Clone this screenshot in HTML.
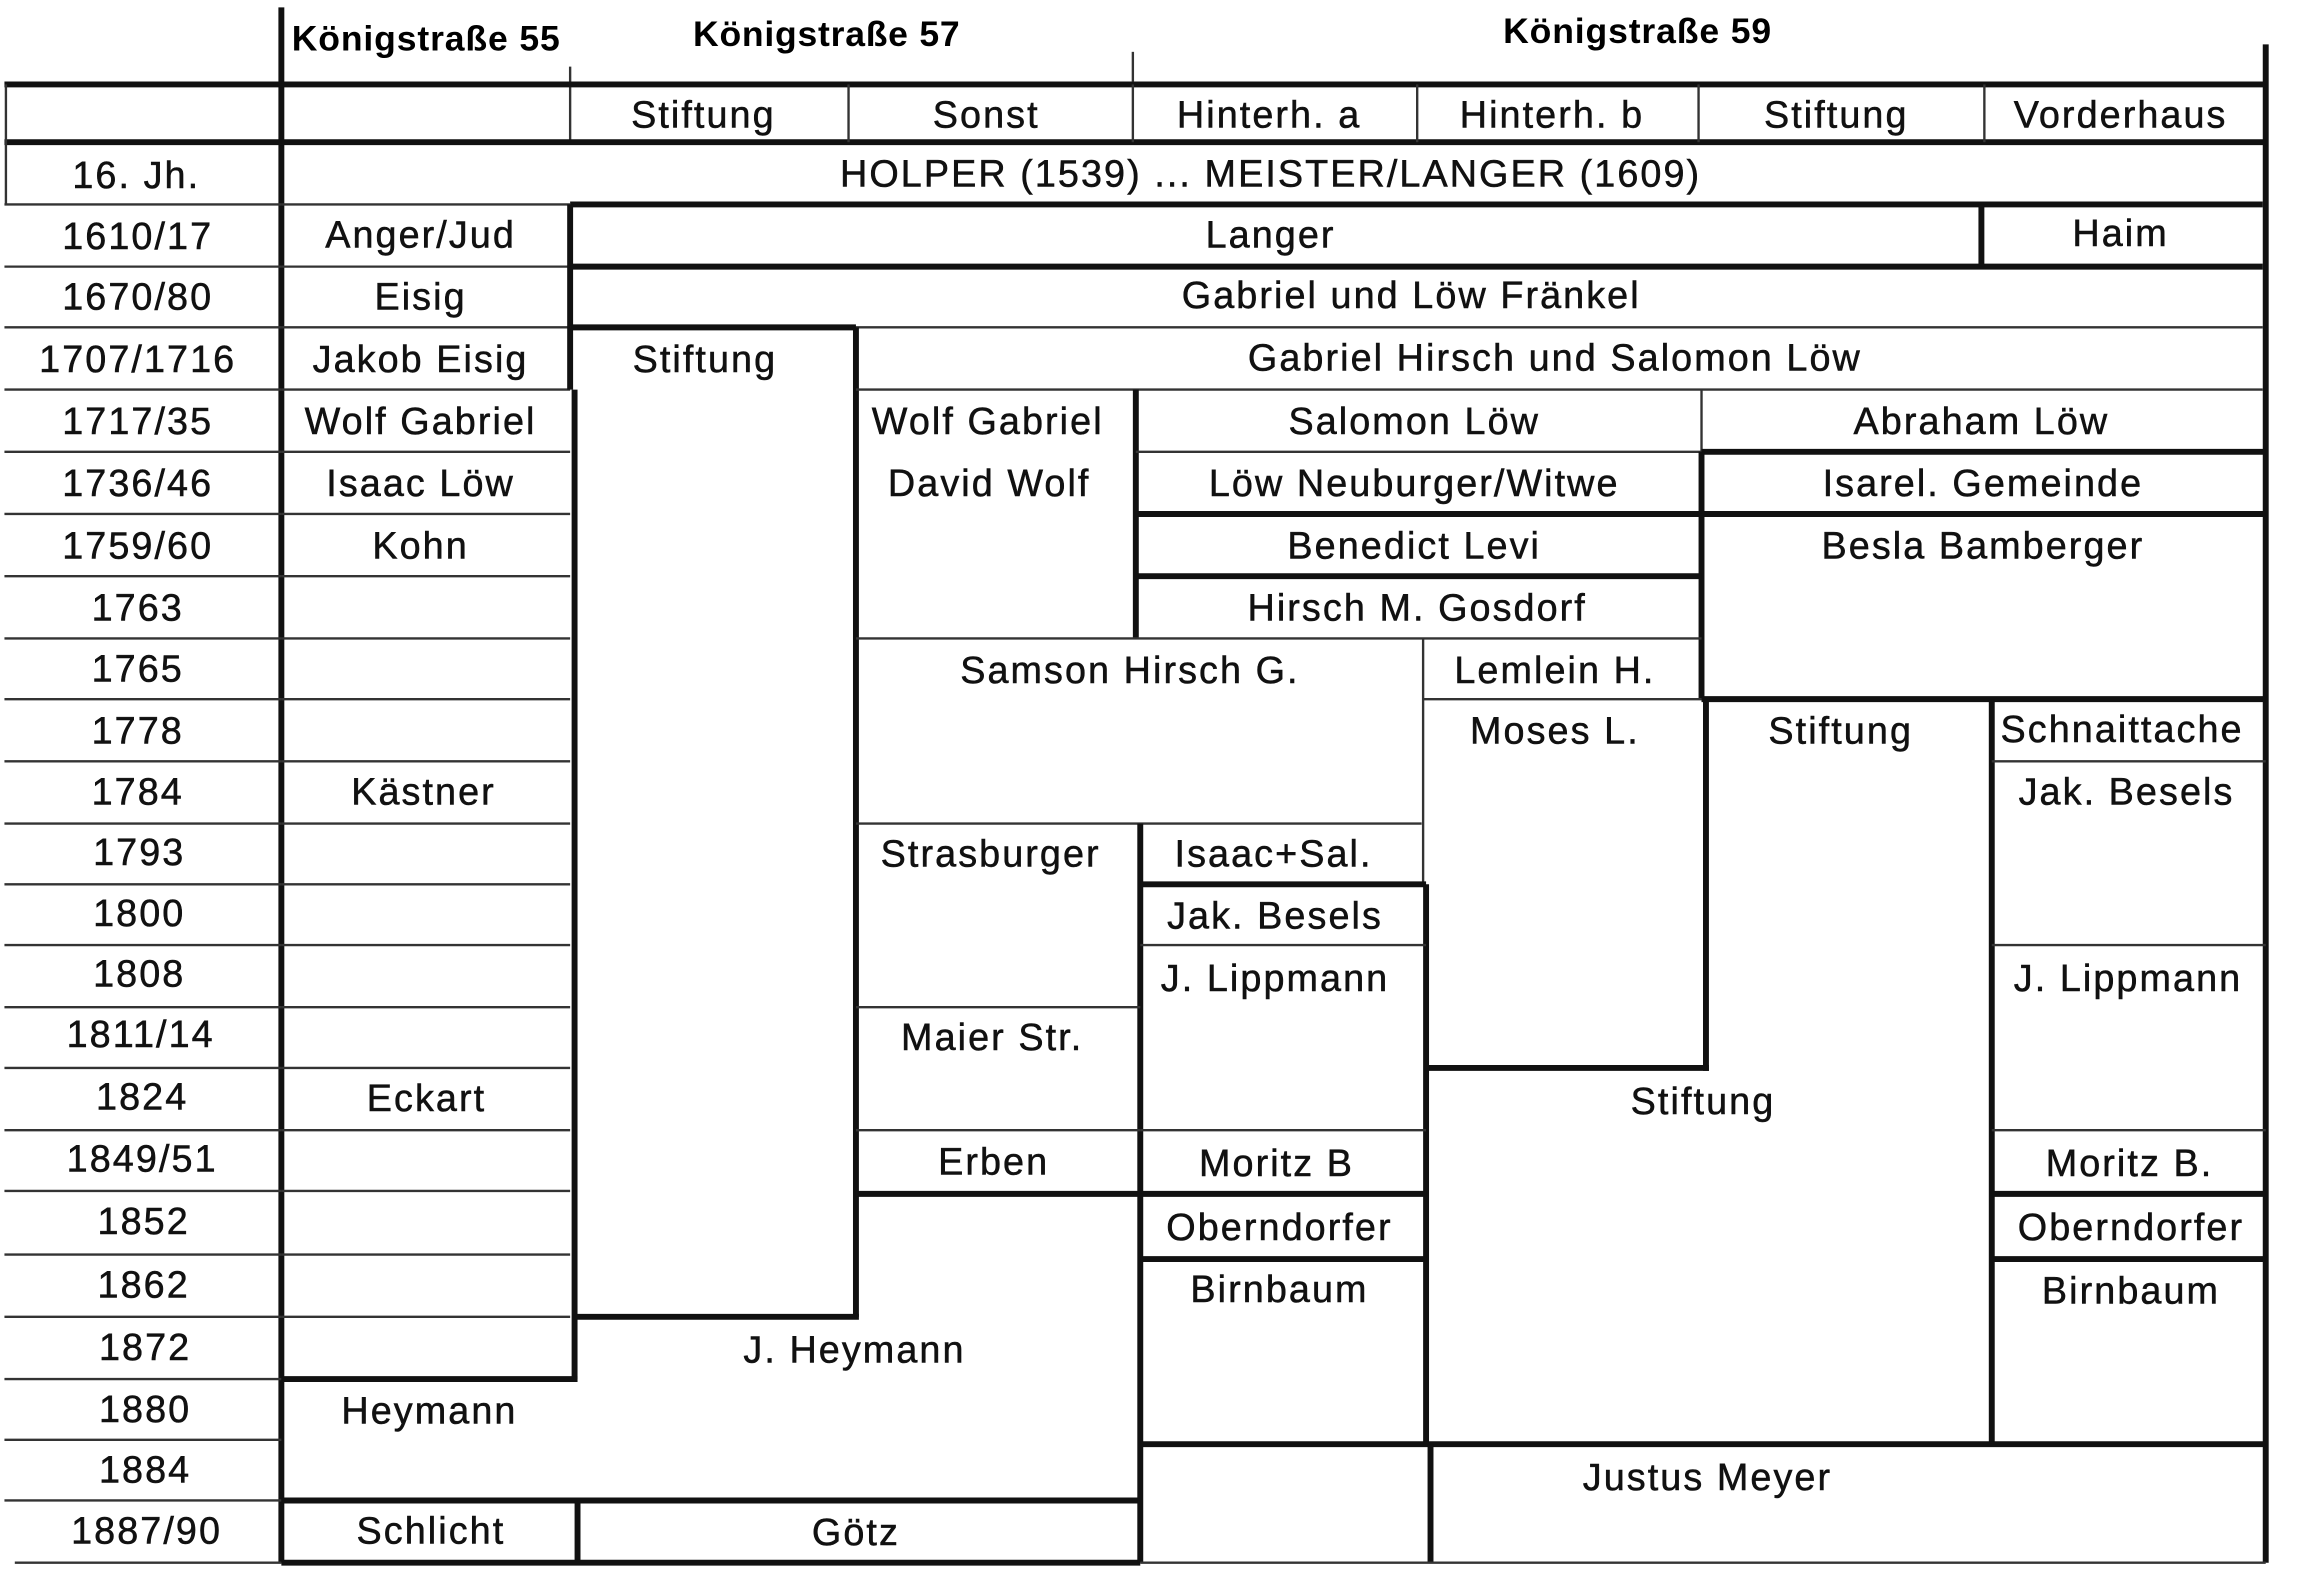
<!DOCTYPE html>
<html><head><meta charset="utf-8"><style>
html,body{margin:0;padding:0;background:#fff;}
svg{display:block;}
text{font-family:"Liberation Sans",Arial,sans-serif;font-size:25.5px;fill:#111;text-anchor:middle;letter-spacing:1.4px;stroke:#111;stroke-width:0.35px;}
.h{font-weight:bold;font-size:24px;text-anchor:start;letter-spacing:0;fill:#000;stroke:none;}
.t{stroke:#333;stroke-width:1.6;fill:none;}
.k{stroke:#111;stroke-width:4;fill:none;}
</style></head><body>
<svg width="2322" height="1579" viewBox="0 0 1568 1066" preserveAspectRatio="none" xmlns="http://www.w3.org/2000/svg">
<rect width="1568" height="1066" fill="#fff"/>
<!-- header -->
<text class="h" x="197" y="34" textLength="181">Königstraße 55</text>
<text class="h" x="468" y="31" textLength="180">Königstraße 57</text>
<text class="h" x="1015" y="29" textLength="181">Königstraße 59</text>
<line class="k" x1="190" y1="5" x2="190" y2="1055"/>
<line class="k" x1="1530" y1="30" x2="1530" y2="1055"/>
<line class="t" x1="385" y1="45" x2="385" y2="96"/>
<line class="t" x1="765" y1="35" x2="765" y2="55"/>
<line class="k" x1="3" y1="57" x2="1530" y2="57"/>
<line class="k" x1="3" y1="96" x2="1530" y2="96"/>
<line class="t" x1="573" y1="57" x2="573" y2="96"/>
<line class="t" x1="765" y1="57" x2="765" y2="96"/>
<line class="t" x1="957" y1="57" x2="957" y2="96"/>
<line class="t" x1="1147" y1="57" x2="1147" y2="96"/>
<line class="t" x1="1340" y1="57" x2="1340" y2="96"/>
<line class="t" x1="4" y1="57" x2="4" y2="138"/>
<text x="475" y="86">Stiftung</text>
<text x="666" y="86">Sonst</text>
<text x="857" y="86">Hinterh. a</text>
<text x="1048" y="86">Hinterh. b</text>
<text x="1240" y="86">Stiftung</text>
<text x="1432" y="86">Vorderhaus</text>

<!-- year column lines -->
<g class="t">
<line x1="3" y1="138" x2="190" y2="138"/><line x1="3" y1="180" x2="190" y2="180"/>
<line x1="3" y1="221" x2="190" y2="221"/><line x1="3" y1="263" x2="190" y2="263"/>
<line x1="3" y1="305" x2="190" y2="305"/><line x1="3" y1="347" x2="190" y2="347"/>
<line x1="3" y1="389" x2="190" y2="389"/><line x1="3" y1="431" x2="190" y2="431"/>
<line x1="3" y1="472" x2="190" y2="472"/><line x1="3" y1="514" x2="190" y2="514"/>
<line x1="3" y1="556" x2="190" y2="556"/><line x1="3" y1="597" x2="190" y2="597"/>
<line x1="3" y1="638" x2="190" y2="638"/><line x1="3" y1="680" x2="190" y2="680"/>
<line x1="3" y1="721" x2="190" y2="721"/><line x1="3" y1="763" x2="190" y2="763"/>
<line x1="3" y1="804" x2="190" y2="804"/><line x1="3" y1="847" x2="190" y2="847"/>
<line x1="3" y1="889" x2="190" y2="889"/><line x1="3" y1="931" x2="190" y2="931"/>
<line x1="3" y1="972" x2="190" y2="972"/><line x1="3" y1="1013" x2="190" y2="1013"/>
<line x1="10" y1="1055" x2="190" y2="1055"/>
</g>
<g>
<text x="92" y="127">16. Jh.</text>
<text x="93" y="168">1610/17</text>
<text x="93" y="209">1670/80</text>
<text x="93" y="251">1707/1716</text>
<text x="93" y="293">1717/35</text>
<text x="93" y="335">1736/46</text>
<text x="93" y="377">1759/60</text>
<text x="93" y="419">1763</text>
<text x="93" y="460">1765</text>
<text x="93" y="502">1778</text>
<text x="93" y="543">1784</text>
<text x="94" y="584">1793</text>
<text x="94" y="625">1800</text>
<text x="94" y="666">1808</text>
<text x="95" y="707">1811/14</text>
<text x="96" y="749">1824</text>
<text x="96" y="791">1849/51</text>
<text x="97" y="833">1852</text>
<text x="97" y="876">1862</text>
<text x="98" y="918">1872</text>
<text x="98" y="960">1880</text>
<text x="98" y="1001">1884</text>
<text x="99" y="1042">1887/90</text>
</g>

<text x="858" y="126">HOLPER (1539) ... MEISTER/LANGER (1609)</text>
<line class="t" x1="190" y1="138" x2="385" y2="138"/>
<line class="k" x1="385" y1="138" x2="1528" y2="138"/>

<g class="t">
<line x1="190" y1="180" x2="385" y2="180"/><line x1="190" y1="221" x2="385" y2="221"/>
<line x1="190" y1="263" x2="385" y2="263"/><line x1="190" y1="305" x2="385" y2="305"/>
<line x1="190" y1="347" x2="385" y2="347"/><line x1="190" y1="389" x2="385" y2="389"/>
<line x1="190" y1="431" x2="385" y2="431"/><line x1="190" y1="472" x2="385" y2="472"/>
<line x1="190" y1="514" x2="385" y2="514"/><line x1="190" y1="556" x2="385" y2="556"/>
<line x1="190" y1="597" x2="385" y2="597"/><line x1="190" y1="638" x2="385" y2="638"/>
<line x1="190" y1="680" x2="385" y2="680"/><line x1="190" y1="721" x2="385" y2="721"/>
<line x1="190" y1="763" x2="385" y2="763"/><line x1="190" y1="804" x2="385" y2="804"/>
<line x1="190" y1="847" x2="385" y2="847"/><line x1="190" y1="889" x2="385" y2="889"/>
</g>
<line class="k" x1="385" y1="138" x2="385" y2="263"/>
<line class="k" x1="388" y1="263" x2="388" y2="931"/>
<line class="k" x1="190" y1="931" x2="390" y2="931"/>
<line class="k" x1="190" y1="1013" x2="770" y2="1013"/>
<line class="k" x1="390" y1="1013" x2="390" y2="1055"/>
<line class="k" x1="190" y1="1055" x2="770" y2="1055"/>
<text x="284" y="167">Anger/Jud</text>
<text x="284" y="209">Eisig</text>
<text x="284" y="251">Jakob Eisig</text>
<text x="284" y="293">Wolf Gabriel</text>
<text x="284" y="335">Isaac Löw</text>
<text x="284" y="377">Kohn</text>
<text x="286" y="543">Kästner</text>
<text x="288" y="750">Eckart</text>
<text x="290" y="961">Heymann</text>
<text x="291" y="1042">Schlicht</text>
<text x="578" y="1043">Götz</text>

<line class="k" x1="385" y1="180" x2="1528" y2="180"/>
<line class="k" x1="1338" y1="138" x2="1338" y2="180"/>
<text x="858" y="167">Langer</text>
<text x="1432" y="166">Haim</text>
<text x="953" y="208">Gabriel und Löw Fränkel</text>
<line class="t" x1="385" y1="221" x2="1528" y2="221"/>
<text x="1050" y="250">Gabriel Hirsch und Salomon Löw</text>

<line class="k" x1="385" y1="221" x2="578" y2="221"/>
<line class="k" x1="578" y1="221" x2="578" y2="889"/>
<line class="k" x1="388" y1="889" x2="580" y2="889"/>
<text x="476" y="251">Stiftung</text>

<line class="t" x1="578" y1="263" x2="1528" y2="263"/>
<line class="k" x1="767" y1="263" x2="767" y2="431"/>
<line class="t" x1="1149" y1="263" x2="1149" y2="305"/>
<text x="667" y="293">Wolf Gabriel</text>
<text x="955" y="293">Salomon Löw</text>
<text x="1338" y="293">Abraham Löw</text>
<line class="t" x1="767" y1="305" x2="1149" y2="305"/>
<line class="k" x1="1149" y1="305" x2="1530" y2="305"/>
<line class="k" x1="1149" y1="305" x2="1149" y2="472"/>
<text x="668" y="335">David Wolf</text>
<text x="955" y="335">Löw Neuburger/Witwe</text>
<text x="1339" y="335">Isarel. Gemeinde</text>
<line class="k" x1="767" y1="347" x2="1530" y2="347"/>
<line class="k" x1="767" y1="389" x2="1149" y2="389"/>
<text x="955" y="377">Benedict Levi</text>
<text x="1339" y="377">Besla Bamberger</text>
<text x="957" y="419">Hirsch M. Gosdorf</text>
<line class="t" x1="578" y1="431" x2="1149" y2="431"/>

<text x="763" y="461">Samson Hirsch G.</text>
<line class="t" x1="961" y1="431" x2="961" y2="597"/>
<text x="1050" y="461">Lemlein H.</text>
<line class="t" x1="961" y1="472" x2="1149" y2="472"/>
<text x="1050" y="502">Moses L.</text>
<line class="k" x1="1152" y1="472" x2="1152" y2="723"/>
<line class="k" x1="963" y1="721" x2="1154" y2="721"/>
<line class="k" x1="1149" y1="472" x2="1530" y2="472"/>
<text x="1243" y="502">Stiftung</text>
<line class="k" x1="1345" y1="472" x2="1345" y2="975"/>
<text x="1433" y="501">Schnaittache</text>
<g class="t">
<line x1="1345" y1="514" x2="1530" y2="514"/>
<line x1="1345" y1="638" x2="1530" y2="638"/>
<line x1="1345" y1="763" x2="1530" y2="763"/>
</g>
<line class="k" x1="1345" y1="806" x2="1530" y2="806"/>
<line class="k" x1="1345" y1="850" x2="1530" y2="850"/>
<text x="1436" y="543">Jak. Besels</text>
<text x="1437" y="669">J. Lippmann</text>
<text x="1438" y="794">Moritz B.</text>
<text x="1439" y="837">Oberndorfer</text>
<text x="1439" y="880">Birnbaum</text>
<text x="1150" y="752">Stiftung</text>

<line class="t" x1="578" y1="556" x2="960" y2="556"/>
<line class="k" x1="770" y1="556" x2="770" y2="1055"/>
<text x="669" y="585">Strasburger</text>
<text x="860" y="585">Isaac+Sal.</text>
<line class="k" x1="770" y1="597" x2="963" y2="597"/>
<line class="k" x1="963" y1="597" x2="963" y2="975"/>
<line class="t" x1="578" y1="680" x2="770" y2="680"/>
<line class="t" x1="578" y1="763" x2="770" y2="763"/>
<line class="t" x1="770" y1="638" x2="963" y2="638"/>
<line class="t" x1="770" y1="763" x2="963" y2="763"/>
<line class="k" x1="578" y1="806" x2="963" y2="806"/>
<line class="k" x1="770" y1="850" x2="963" y2="850"/>
<text x="670" y="709">Maier Str.</text>
<text x="671" y="793">Erben</text>
<text x="861" y="627">Jak. Besels</text>
<text x="861" y="669">J. Lippmann</text>
<text x="862" y="794">Moritz B</text>
<text x="864" y="837">Oberndorfer</text>
<text x="864" y="879">Birnbaum</text>
<text x="577" y="920">J. Heymann</text>

<line class="k" x1="770" y1="975" x2="1530" y2="975"/>
<line class="k" x1="966" y1="975" x2="966" y2="1055"/>
<line class="t" x1="770" y1="1055" x2="1530" y2="1055"/>
<text x="1153" y="1006">Justus Meyer</text>
</svg>
</body></html>
